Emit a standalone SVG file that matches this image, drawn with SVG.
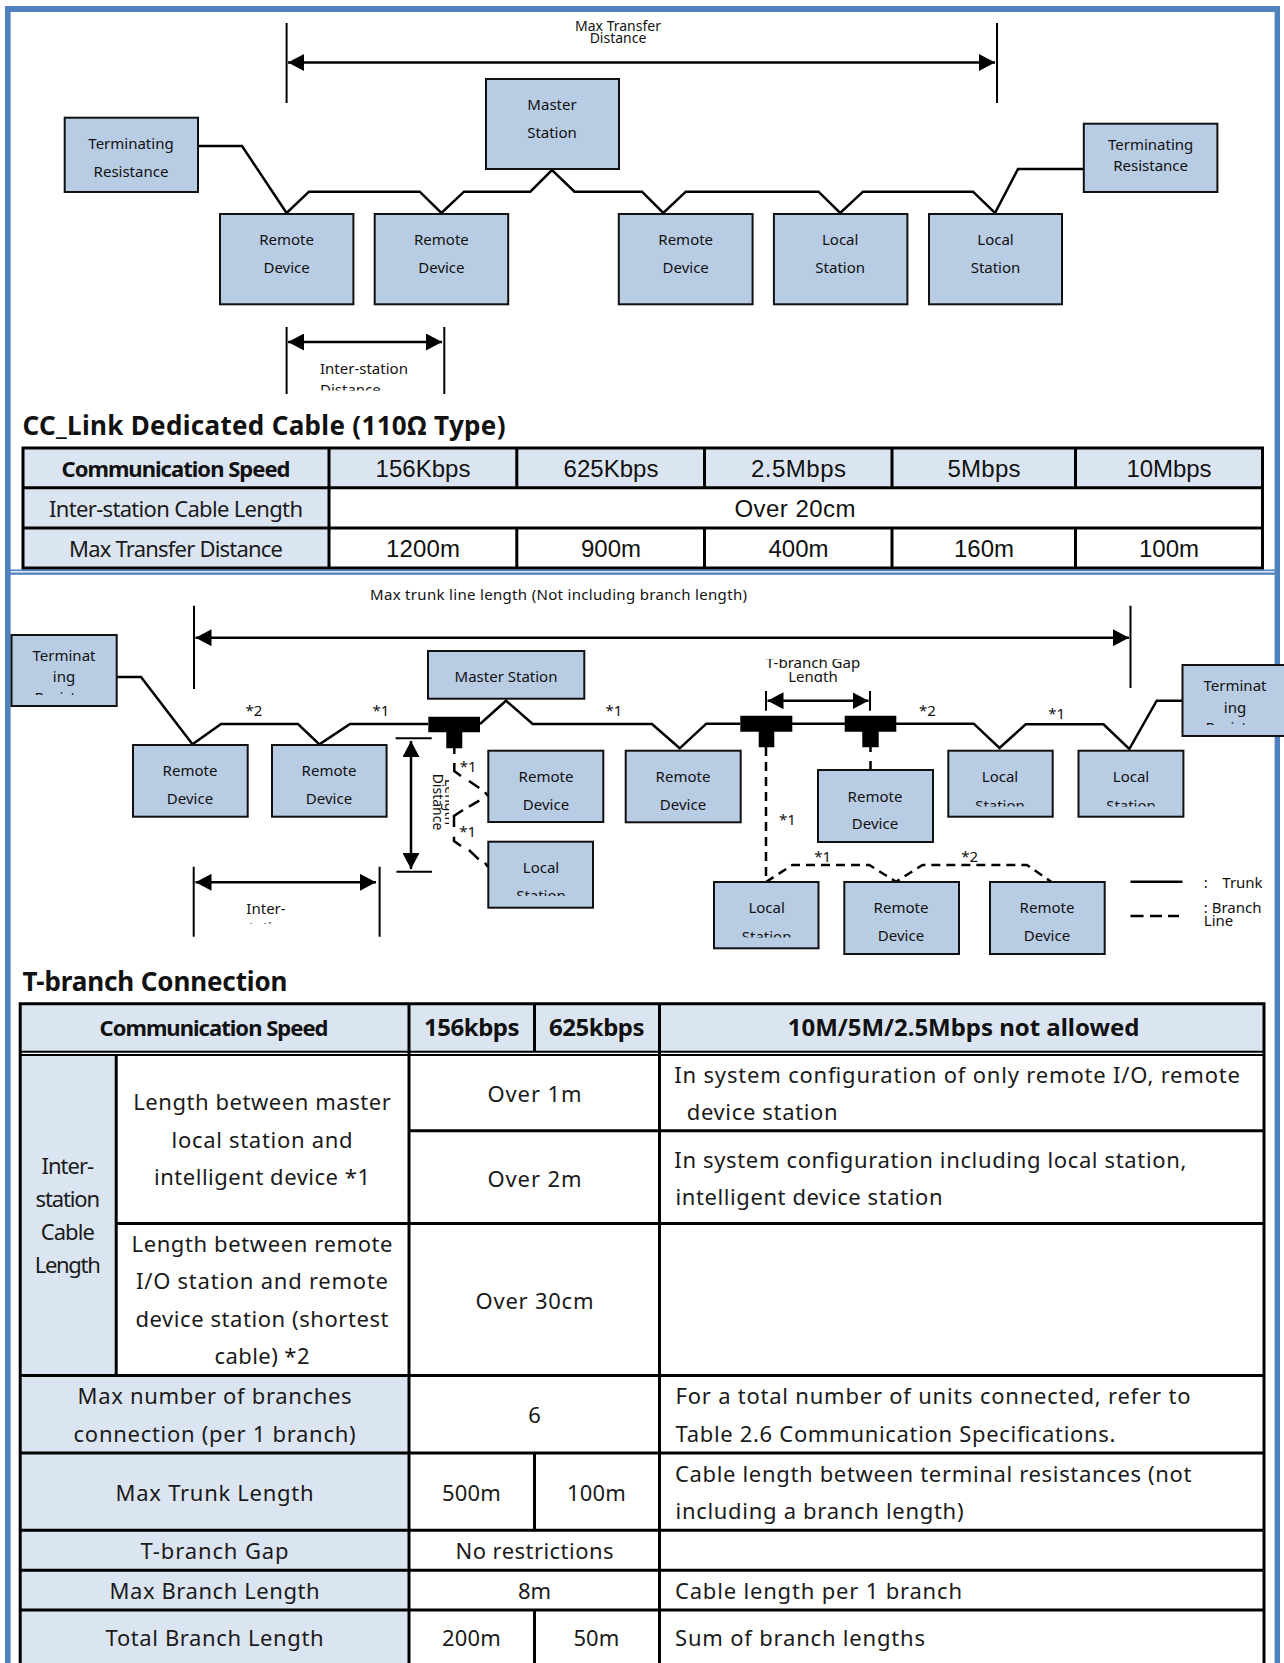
<svg xmlns="http://www.w3.org/2000/svg" width="1284" height="1663" viewBox="0 0 1284 1663">
<style>
text{font-family:"Noto Sans","DejaVu Sans",sans-serif;fill:#111}
.n{fill:#b8cce4;stroke:#111;stroke-width:2}
.c{text-anchor:middle}
.s16{font-size:15px}
.s14{font-size:14px}
.s15{font-size:15px}
.b{font-weight:700}
.t{font-size:22px;fill:#1a1a1a}
.g{font-family:"Liberation Sans",sans-serif;font-size:24px}
.line{fill:none;stroke:#000;stroke-width:2.5}
.thin{fill:none;stroke:#000;stroke-width:2}
.dash{fill:none;stroke:#000;stroke-width:2.5;stroke-dasharray:9 6}
.tb{fill:none;stroke:#000;stroke-width:3}
.hd{fill:#dbe5f1}
.blue{fill:#4f81bd}
</style>
<defs>
<marker id="ah" markerUnits="userSpaceOnUse" markerWidth="16" markerHeight="17" refX="16" refY="8.5" orient="auto-start-reverse"><path d="M0 0L16 8.5L0 17Z" fill="#000"/></marker>
<clipPath id="cInter1"><rect x="300" y="360" width="140" height="30.5"/></clipPath>
<clipPath id="cTermL"><rect x="13" y="640" width="102" height="55"/></clipPath>
<clipPath id="cTermR"><rect x="1184" y="670" width="100" height="55"/></clipPath>
<clipPath id="cLocD"><rect x="490" y="850" width="102" height="46"/></clipPath>
<clipPath id="cLocG"><rect x="950" y="760" width="102" height="46.5"/></clipPath>
<clipPath id="cLocH"><rect x="1080" y="760" width="102" height="46.5"/></clipPath>
<clipPath id="cLocI"><rect x="716" y="890" width="102" height="47.5"/></clipPath>
<clipPath id="cGap"><rect x="740" y="659" width="150" height="23"/></clipPath>
<clipPath id="cInter2"><rect x="230" y="895" width="80" height="29"/></clipPath>
<clipPath id="cRot"><rect x="425" y="770" width="24" height="65"/></clipPath>
</defs>
<rect width="1284" height="1663" fill="#fff"/>

<g id="frame">
<rect class="blue" x="5" y="6" width="1275" height="6"/>
<rect class="blue" x="5" y="6" width="5.6" height="1657"/>
<rect class="blue" x="1274.6" y="6" width="5.4" height="1657"/>
<rect class="blue" x="10" y="569.5" width="1265" height="1.7"/>
<rect class="blue" x="10" y="572.5" width="1265" height="2.3"/>
</g>

<g id="connectors">
<path class="line" d="M198 146H242L286.6 213L309 191.7H419.7L441.4 213L464 191.7H530.3L552 170L574.5 191.7H642L663.3 213L685.8 191.7H818.5L840.2 213L863 191.7H973L995 213L1018 169H1084"/>
<path class="thin" d="M286.6 23V103M997 23V103M286.6 327V394M444.3 327V394"/>
<path class="line" d="M288 62.5H995" marker-start="url(#ah)" marker-end="url(#ah)"/>
<path class="line" d="M288 342H442" marker-start="url(#ah)" marker-end="url(#ah)"/>

<path class="line" d="M117 677H141L192.5 744.3L221 724H298L319.4 744.3L350 724H428M480 724L506 700.7L532.7 724H652L679.7 748.3L706.3 723.7H740.3M792 723.7H845M896 723.7H973.7L999.5 748L1025.7 724.3H1103.5L1129.3 749L1156.7 700.7H1183"/>
<path class="thin" d="M194 605.7V689M1130.5 605.7V688M193.7 866.7V936.7M379.6 866.7V936.7M766 691V710.7M870 691V710.7M395.6 738.3H431.7M396.4 871.7H432"/>
<path class="line" d="M195.5 637.7H1129" marker-start="url(#ah)" marker-end="url(#ah)"/>
<path class="line" d="M195.5 882.3H376" marker-start="url(#ah)" marker-end="url(#ah)"/>
<path class="line" d="M767.5 700.7H868.5" marker-start="url(#ah)" marker-end="url(#ah)"/>
<path class="line" d="M411 741V869" marker-start="url(#ah)" marker-end="url(#ah)"/>
<path d="M428.3 716.7H480V732.3H462.3V748.3H446.3V732.3H428.3ZM740.3 715.7H792.3V731.7H774.3V747.3H758.7V731.7H740.3ZM844.7 715.7H896.3V731.7H878.7V747.3H862.3V731.7H844.7Z" fill="#000"/>
<path class="line" d="M454.3 748V754M454.3 763V771L461 776M469 781L479.3 788M485 792.3L488 796M479.3 800.7L469 806.7M463 810L454 816V827M454 836.7V841L461 846M469 850L478.7 859.3M485 862.7L488 867"/>
<path class="dash" d="M766 747V882L792.3 865H869.3L896 881.7L922.5 865H1027L1051.5 882"/>
<path class="line" d="M870.5 747V752M870.5 761V770"/>
<path class="line" d="M1130.5 881.7H1182.5"/>
<path class="line" d="M1130.5 916H1143.6M1150 916H1162M1168 916H1179"/>
</g>

<g id="top-diagram-labels">
<text class="s14 c" x="618" y="31">Max Transfer</text>
<text class="s14 c" x="618" y="43">Distance</text>
<text class="s15" x="320" y="374">Inter-station</text>
<text class="s15" x="320" y="394.5" clip-path="url(#cInter1)">Distance</text>
</g>
<g id="term-left-1"><rect class="n" x="64.7" y="117.7" width="133.3" height="74.3"/><text class="s16 c" x="131" y="148.7">Terminating</text><text class="s16 c" x="131" y="176.7">Resistance</text></g>
<g id="master-1"><rect class="n" x="486" y="79" width="133" height="90"/><text class="s16 c" x="552" y="110">Master</text><text class="s16 c" x="552" y="138">Station</text></g>
<g id="remote-1"><rect class="n" x="220" y="214" width="133.4" height="90.3"/><text class="s16 c" x="286.6" y="245">Remote</text><text class="s16 c" x="286.6" y="272.7">Device</text></g>
<g id="remote-2"><rect class="n" x="374.7" y="214" width="133.5" height="90.3"/><text class="s16 c" x="441.4" y="245">Remote</text><text class="s16 c" x="441.4" y="272.7">Device</text></g>
<g id="remote-3"><rect class="n" x="618.8" y="214" width="133.8" height="90.3"/><text class="s16 c" x="685.7" y="245">Remote</text><text class="s16 c" x="685.7" y="272.7">Device</text></g>
<g id="local-1"><rect class="n" x="773.9" y="214" width="133.5" height="90.3"/><text class="s16 c" x="840.2" y="245">Local</text><text class="s16 c" x="840.2" y="272.7">Station</text></g>
<g id="local-2"><rect class="n" x="929" y="214" width="133" height="90.3"/><text class="s16 c" x="995.5" y="245">Local</text><text class="s16 c" x="995.5" y="272.7">Station</text></g>
<g id="term-right-1"><rect class="n" x="1083.8" y="123.7" width="133.6" height="68.3"/><text class="s16 c" x="1150.6" y="150">Terminating</text><text class="s16 c" x="1150.6" y="170.7">Resistance</text></g>

<g id="table-1">
<text class="b" x="22.5" y="435" font-size="26" textLength="483">CC_Link Dedicated Cable (110Ω  Type)</text>
<rect class="hd" x="24" y="449" width="1238" height="39"/>
<rect class="hd" x="24" y="488" width="305" height="80"/>
<rect class="tb" x="23" y="448" width="1239.5" height="120"/>
<path class="tb" d="M23 487.7H1262.5M23 528H1262.5M329 448V568M516.8 448V487.7M704.5 448V487.7M892 448V487.7M1075.5 448V487.7M516.8 528V568M704.5 528V568M892 528V568M1075.5 528V568"/>
<text class="b c" x="176" y="477" font-size="22" textLength="229">Communication Speed</text>
<text class="g c" x="423" y="477" textLength="95">156Kbps</text>
<text class="g c" x="611" y="477" textLength="95">625Kbps</text>
<text class="g c" x="798.5" y="477" textLength="95">2.5Mbps</text>
<text class="g c" x="984" y="477" textLength="73">5Mbps</text>
<text class="g c" x="1169" y="477" textLength="85">10Mbps</text>
<text class="t c" x="176" y="517" textLength="254">Inter-station Cable Length</text>
<text class="g c" x="795" y="516.7" textLength="121">Over 20cm</text>
<text class="t c" x="176" y="556.7" textLength="214">Max Transfer Distance</text>
<text class="g c" x="423" y="556.7" textLength="74">1200m</text>
<text class="g c" x="611" y="556.7" textLength="60">900m</text>
<text class="g c" x="798.5" y="556.7" textLength="60">400m</text>
<text class="g c" x="984" y="556.7" textLength="60">160m</text>
<text class="g c" x="1169" y="556.7" textLength="60">100m</text>
</g>

<g id="bottom-diagram-labels">
<text class="s16" x="370" y="600" textLength="377">Max trunk line length (Not including branch length)</text>
<text class="s15 c" x="813" y="668.3" clip-path="url(#cGap)">T-branch Gap</text>
<text class="s15 c" x="813" y="681.7" clip-path="url(#cGap)">Length</text>
<text class="s16 c" x="266" y="914">Inter-</text>
<text class="s16 c" x="266" y="933" clip-path="url(#cInter2)">station</text>
<g clip-path="url(#cRot)">
<text class="s14 c" transform="translate(433,802) rotate(90)">Distance</text>
<text class="s14 c" transform="translate(445,802) rotate(90)">Length</text>
</g>
<text class="s16 c" x="254" y="716">*2</text>
<text class="s16 c" x="381" y="716">*1</text>
<text class="s16 c" x="614" y="716">*1</text>
<text class="s16 c" x="468.3" y="771.7">*1</text>
<text class="s16 c" x="467.7" y="836.7">*1</text>
<text class="s16 c" x="787.4" y="825">*1</text>
<text class="s16 c" x="927.4" y="715.7">*2</text>
<text class="s16 c" x="1056.8" y="719.3">*1</text>
<text class="s16 c" x="822.6" y="862.3">*1</text>
<text class="s16 c" x="969.6" y="862.3">*2</text>
<text class="s16" x="1203.8" y="888.3">:</text>
<text class="s16" x="1222.3" y="888.3">Trunk</text>
<text class="s16" x="1203.8" y="913.3">: Branch</text>
<text class="s16" x="1203.8" y="925.7">Line</text>
</g>
<g id="term-left-2"><rect class="n" x="11.5" y="635" width="105.2" height="71"/><text class="s16 c" x="64" y="661">Terminat</text><text class="s16 c" x="64" y="682">ing</text><text class="s16 c" x="64" y="703" clip-path="url(#cTermL)">Resistan</text></g>
<g id="master-2"><rect class="n" x="428" y="651" width="156.3" height="47.7"/><text class="s16 c" x="506" y="682.3">Master Station</text></g>
<g id="remote-a"><rect class="n" x="133" y="745" width="114.7" height="71.7"/><text class="s16 c" x="190" y="776">Remote</text><text class="s16 c" x="190" y="804">Device</text></g>
<g id="remote-b"><rect class="n" x="272" y="745" width="114.6" height="71.7"/><text class="s16 c" x="329" y="776">Remote</text><text class="s16 c" x="329" y="804">Device</text></g>
<g id="remote-c"><rect class="n" x="488.3" y="750.7" width="115" height="71.3"/><text class="s16 c" x="546" y="782.3">Remote</text><text class="s16 c" x="546" y="810">Device</text></g>
<g id="local-d"><rect class="n" x="488.3" y="841.7" width="104.7" height="66"/><text class="s16 c" x="541" y="872.7">Local</text><text class="s16 c" x="541" y="900.7" clip-path="url(#cLocD)">Station</text></g>
<g id="remote-e"><rect class="n" x="625.7" y="750.7" width="115" height="71.6"/><text class="s16 c" x="683" y="781.7">Remote</text><text class="s16 c" x="683" y="810">Device</text></g>
<g id="remote-f"><rect class="n" x="818" y="770" width="115" height="72"/><text class="s16 c" x="875" y="801.7">Remote</text><text class="s16 c" x="875" y="829">Device</text></g>
<g id="local-g"><rect class="n" x="948.3" y="750.7" width="104.4" height="66"/><text class="s16 c" x="1000" y="782.3">Local</text><text class="s16 c" x="1000" y="811" clip-path="url(#cLocG)">Station</text></g>
<g id="local-h"><rect class="n" x="1078.5" y="750.7" width="104.9" height="66"/><text class="s16 c" x="1131" y="782.3">Local</text><text class="s16 c" x="1131" y="811" clip-path="url(#cLocH)">Station</text></g>
<g id="local-i"><rect class="n" x="714" y="882" width="104.5" height="66.3"/><text class="s16 c" x="766.6" y="913.3">Local</text><text class="s16 c" x="766.6" y="942" clip-path="url(#cLocI)">Station</text></g>
<g id="remote-j"><rect class="n" x="844.3" y="882" width="114.7" height="72"/><text class="s16 c" x="901" y="913.3">Remote</text><text class="s16 c" x="901" y="941">Device</text></g>
<g id="remote-k"><rect class="n" x="990" y="882" width="114.7" height="72"/><text class="s16 c" x="1047" y="913.3">Remote</text><text class="s16 c" x="1047" y="941">Device</text></g>
<g id="term-right-2"><rect class="n" x="1182.5" y="665" width="110" height="71"/><text class="s16 c" x="1235" y="691">Terminat</text><text class="s16 c" x="1235" y="712.7">ing</text><text class="s16 c" x="1235" y="732.5" clip-path="url(#cTermR)">Resistan</text></g>

<g id="table-2">
<text class="b" x="22.5" y="991" font-size="26" textLength="265">T-branch Connection</text>
<rect class="hd" x="20" y="1004" width="1244" height="48"/>
<rect class="hd" x="20" y="1055" width="96" height="320"/>
<rect class="hd" x="20" y="1375" width="389" height="288"/>
<path class="tb" d="M20.2 1665V1003.7H1264V1665M116.2 1055V1375.4M409 1003.7V1665M534.5 1003.7V1052M659.5 1003.7V1665M534.5 1453V1530.3M534.5 1610V1665M409 1130.8H1264M116.2 1223.5H1264M20 1375.4H1264M20 1453H1264M20 1530.3H1264M20 1570.3H1264M20 1610H1264"/>
<path class="thin" d="M20 1051.8H1264M20 1055H1264"/>
<text class="b c" x="214" y="1035.5" font-size="22" textLength="229">Communication Speed</text>
<text class="b c" x="471.8" y="1035.5" font-size="24" textLength="95.5">156kbps</text>
<text class="b c" x="596.8" y="1035.5" font-size="24" textLength="95.5">625kbps</text>
<text class="b c" x="963.6" y="1035.5" font-size="24" textLength="351.6">10M/5M/2.5Mbps not allowed</text>
<text class="t c" x="67.8" y="1173.7" textLength="52.6">Inter-</text>
<text class="t c" x="67.8" y="1206.7" textLength="64.4">station</text>
<text class="t c" x="67.8" y="1239.8" textLength="54">Cable</text>
<text class="t c" x="67.8" y="1273" textLength="66">Length</text>
<text class="t c" x="262" y="1110" textLength="257.6">Length between master</text>
<text class="t c" x="262" y="1147.5" textLength="181">local station and</text>
<text class="t c" x="262" y="1185.3" textLength="216">intelligent device *1</text>
<text class="t c" x="262" y="1252" textLength="261">Length between remote</text>
<text class="t c" x="262" y="1289" textLength="252">I/O station and remote</text>
<text class="t c" x="262" y="1327" textLength="253">device station (shortest</text>
<text class="t c" x="262" y="1364" textLength="95">cable) *2</text>
<text class="t c" x="534.5" y="1102.4" textLength="94">Over 1m</text>
<text class="t c" x="534.5" y="1186.6" textLength="94">Over 2m</text>
<text class="t c" x="534.5" y="1308.5" textLength="118">Over 30cm</text>
<text class="t c" x="214.6" y="1404" textLength="274">Max number of branches</text>
<text class="t c" x="214.6" y="1441.5" textLength="282">connection (per 1 branch)</text>
<text class="t c" x="534.5" y="1422.6">6</text>
<text class="t c" x="214.6" y="1501" textLength="198">Max Trunk Length</text>
<text class="t c" x="471.4" y="1501" textLength="59">500m</text>
<text class="t c" x="596.4" y="1501" textLength="59">100m</text>
<text class="t c" x="214.6" y="1558.7" textLength="148">T-branch Gap</text>
<text class="t c" x="534.5" y="1558.7" textLength="158">No restrictions</text>
<text class="t c" x="214.6" y="1598.6" textLength="210">Max Branch Length</text>
<text class="t c" x="534.5" y="1598.6" textLength="33">8m</text>
<text class="t c" x="214.6" y="1645.8" textLength="218">Total Branch Length</text>
<text class="t c" x="471.4" y="1645.8" textLength="59">200m</text>
<text class="t c" x="596.4" y="1645.8" textLength="46">50m</text>
<text class="t" x="674.3" y="1083" textLength="565.7">In system configuration of only remote I/O, remote</text>
<text class="t" x="686.7" y="1120" textLength="151">device station</text>
<text class="t" x="674.3" y="1168" textLength="512">In system configuration including local station,</text>
<text class="t" x="675.5" y="1204.6" textLength="267">intelligent device station</text>
<text class="t" x="675.5" y="1404" textLength="515">For a total number of units connected, refer to</text>
<text class="t" x="675.5" y="1441.5" textLength="440">Table 2.6 Communication Specifications.</text>
<text class="t" x="675" y="1482.3" textLength="516.5">Cable length between terminal resistances (not</text>
<text class="t" x="675.5" y="1519" textLength="288">including a branch length)</text>
<text class="t" x="675" y="1598.6" textLength="287">Cable length per 1 branch</text>
<text class="t" x="675" y="1645.8" textLength="250">Sum of branch lengths</text>
</g>
</svg>
